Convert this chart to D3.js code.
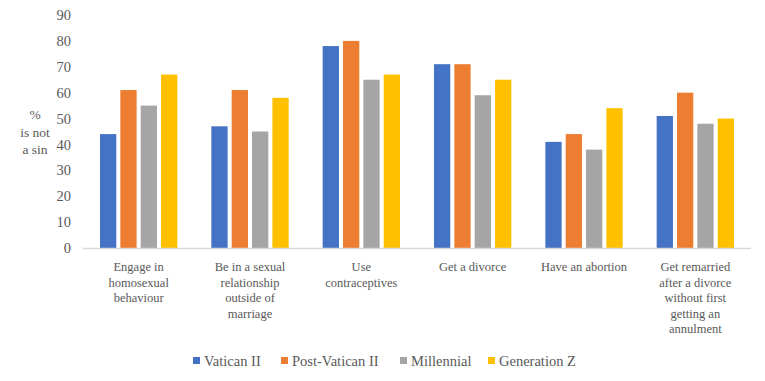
<!DOCTYPE html>
<html>
<head>
<meta charset="utf-8">
<script src="https://cdn.jsdelivr.net/npm/d3@7"></script>
<style>
  body { margin: 0; background: #fff; }
</style>
</head>
<body>
<svg id="chart" width="765" height="381"></svg>
<script>
// data
const categories = [
  ["Engage in", "homosexual", "behaviour"],
  ["Be in a sexual", "relationship", "outside of", "marriage"],
  ["Use", "contraceptives"],
  ["Get a divorce"],
  ["Have an abortion"],
  ["Get remarried", "after a divorce", "without first", "getting an", "annulment"]
];
const seriesNames = ["Vatican II", "Post-Vatican II", "Millennial", "Generation Z"];
const vatican2 = [44, 47, 78, 71, 41, 51];
const postVatican2 = [61, 61, 80, 71, 44, 60];
const millennial = [55, 45, 65, 59, 38, 48];
const genZ = [67, 58, 67, 65, 54, 50];
const yTicks = [0, 10, 20, 30, 40, 50, 60, 70, 80, 90];
const colors = ["#4472C4", "#ED7D31", "#A5A5A5", "#FFC000"];

const allSeries = [vatican2, postVatican2, millennial, genZ];
const rows = categories.map((c, i) => ({
  key: i,
  lines: c,
  values: allSeries.map((s, j) => ({ name: seriesNames[j], value: s[i], idx: j }))
}));

const serif = "'Liberation Serif', 'Times New Roman', 'DejaVu Serif', serif";
const svg = d3.select("#chart")
    .attr("font-family", serif)
    .attr("font-size", 13.5);
const plotLeft = 83, plotRight = 751, plotTop = 15, plotBottom = 248;

const x0 = d3.scaleBand()
    .domain(rows.map(d => d.key))
    .range([plotLeft, plotRight])
    .paddingInner(0)
    .paddingOuter(0);

const x1 = d3.scaleBand()
    .domain(d3.range(seriesNames.length))
    .range([17, x0.bandwidth() - 17])
    .paddingInner(0.2);

const y = d3.scaleLinear().domain([0, 90]).range([plotBottom, plotTop]);

// y tick labels
svg.append("g").selectAll("text")
    .data(yTicks)
    .enter()
    .append("text")
    .attr("x", 71)
    .attr("y", d => y(d))
    .attr("dy", "0.35em")
    .attr("text-anchor", "end")
    .attr("font-size", 14.5)
    .attr("fill", "#595959")
    .text(d => d);

// axis title
const title = svg.append("text")
    .attr("text-anchor", "middle")
    .attr("font-size", 13.5)
    .attr("fill", "#595959");
["%", "is not", "a sin"].forEach((t, i) => {
  title.append("tspan").attr("x", 35).attr("y", 119 + i * 17.5).text(t);
});

// bars
const groups = svg.append("g").selectAll("g")
    .data(rows)
    .enter()
    .append("g")
    .attr("transform", d => `translate(${x0(d.key)},0)`);

groups.selectAll("rect")
    .data(d => d.values)
    .enter()
    .append("rect")
    .attr("x", d => x1(d.idx))
    .attr("y", d => y(d.value))
    .attr("width", x1.bandwidth())
    .attr("height", d => y(0) - y(d.value))
    .attr("fill", d => colors[d.idx]);

// baseline
svg.append("line")
    .attr("x1", plotLeft).attr("x2", plotRight)
    .attr("y1", y(0) + 0.5).attr("y2", y(0) + 0.5)
    .attr("stroke", "#D9D9D9")
    .attr("stroke-width", 1.3);

// category labels
groups.append("text")
    .attr("text-anchor", "middle")
    .attr("font-size", 12.5)
    .attr("fill", "#595959")
    .each(function(d) {
      const t = d3.select(this);
      d.lines.forEach((l, i) => {
        t.append("tspan")
          .attr("x", x0.bandwidth() / 2)
          .attr("y", 271 + i * 15.5)
          .text(l);
      });
    });

// legend
const legendX = [193, 281, 400, 488];
const legend = svg.append("g").selectAll("g")
    .data(seriesNames)
    .enter()
    .append("g")
    .attr("transform", (d, i) => `translate(${legendX[i]},361)`);

legend.append("rect")
    .attr("x", 0).attr("y", -4)
    .attr("width", 7).attr("height", 7)
    .attr("fill", (d, i) => colors[i]);

legend.append("text")
    .attr("x", 11)
    .attr("y", 0)
    .attr("dy", "0.35em")
    .attr("font-size", 14.5)
    .attr("fill", "#595959")
    .text(d => d);
</script>
</body>
</html>
